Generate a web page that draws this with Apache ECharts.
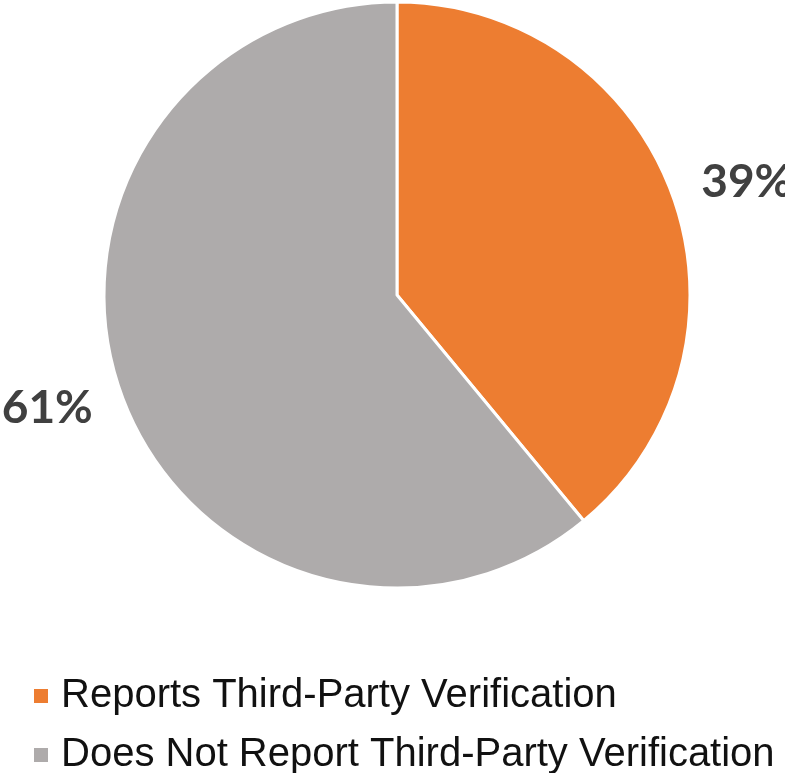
<!DOCTYPE html>
<html>
<head>
<meta charset="utf-8">
<script src="https://cdn.jsdelivr.net/npm/echarts@6/dist/echarts.min.js"></script>
<style>
  html, body { margin: 0; padding: 0; background: #fff; }
  #chart { width: 785px; height: 773px; }
</style>
</head>
<body>
<div id="chart"></div>
<script>
var categories = ['Reports Third-Party Verification', 'Does Not Report Third-Party Verification'];
var shares = [39, 61];
var sliceColors = ['#ED7D31', '#AEABAB'];

var myChart = echarts.init(document.getElementById('chart'));

var pieData = categories.map(function (name, i) {
    return { name: name, value: shares[i], itemStyle: { color: sliceColors[i] } };
});

var option = {
    backgroundColor: '#fff',
    animation: false,
    legend: {
        orient: 'vertical',
        left: 32,
        top: 676,
        height: 110,
        padding: 0,
        icon: 'rect',
        itemWidth: 16,
        itemHeight: 16,
        itemGap: 19,
        selectedMode: false,
        textStyle: {
            fontFamily: 'Liberation Sans',
            fontSize: 40,
            lineHeight: 40,
            color: '#111',
            padding: [0, 0, 0, 7]
        },
        data: categories
    },
    series: [
        {
            type: 'pie',
            center: [397, 295],
            radius: 293,
            startAngle: 90,
            clockwise: true,
            avoidLabelOverlap: false,
            itemStyle: {
                borderColor: '#fff',
                borderWidth: 3
            },
            label: {
                show: true,
                position: 'outside',
                formatter: '{c}%',
                fontFamily: 'Lato',
                fontWeight: 'bold',
                fontSize: 46,
                color: '#404040',
                distanceToLabelLine: 5
            },
            labelLine: {
                show: false,
                length: 25,
                length2: 0
            },
            labelLayout: function (params) {
                // nudge labels a little further from the horizontal, as in the original
                return { dy: params.labelRect.x > 397 ? -5 : 5 };
            },
            data: pieData
        }
    ]
};

myChart.setOption(option);
</script>
</body>
</html>
